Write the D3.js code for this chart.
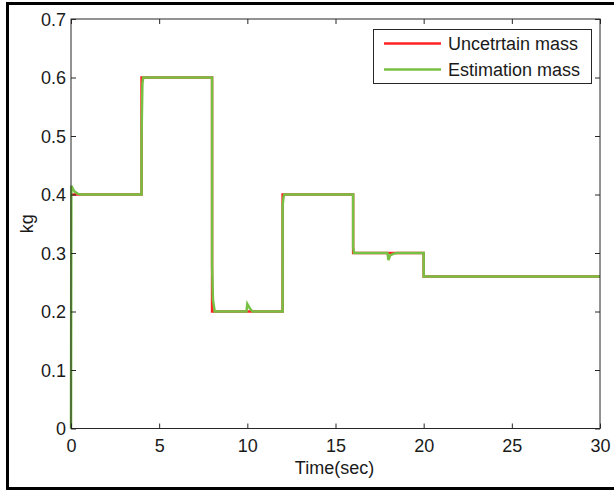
<!DOCTYPE html>
<html><head><meta charset="utf-8">
<script src="https://cdn.jsdelivr.net/npm/d3@7"></script>
<style>body{margin:0;background:#fff}svg{display:block}text{font-family:"Liberation Sans",Arial,sans-serif;fill:#1a1a1a}</style>
</head><body><svg id="c" width="614" height="490"></svg>
<script>
// Uncertain (true) mass: piecewise-constant steps
const stepTimes = [0, 4, 8, 12, 16, 20, 30];
const stepValues = [0.4, 0.6, 0.2, 0.4, 0.3, 0.26, 0.26];
// Estimated mass
const estTimes = [0, 0.02, 0.1, 0.2, 0.4, 0.6, 4.0, 4.0, 4.05, 4.1, 8.0, 8.0, 8.05, 8.15, 9.95, 10.0, 10.15, 10.3, 12.0, 12.0, 12.05, 12.1, 16.0, 16.0, 16.05, 17.95, 18.0, 18.1, 18.3, 18.5, 20.0, 20.0, 30];
const estValues = [0, 0.415, 0.41, 0.405, 0.401, 0.4, 0.4, 0.5, 0.59, 0.6, 0.6, 0.28, 0.22, 0.2, 0.2, 0.213, 0.205, 0.2, 0.2, 0.38, 0.395, 0.4, 0.4, 0.31, 0.3, 0.3, 0.288, 0.296, 0.299, 0.3, 0.3, 0.26, 0.26];
const xTicks = [0, 5, 10, 15, 20, 25, 30];
const yTicks = [0, 0.1, 0.2, 0.3, 0.4, 0.5, 0.6, 0.7];
const seriesNames = ["Uncetrtain mass", "Estimation mass"];
const seriesColors = ["#ff2222", "#76c043"];

const svg = d3.select("#c");
const L = 71, R = 600, T = 19, B = 428.5;
const x = d3.scaleLinear().domain([0, 30]).range([L, R]);
const y = d3.scaleLinear().domain([0, 0.7]).range([B, T]);

// outer frame
svg.append("rect").attr("x", 7.5).attr("y", 3.5).attr("width", 640).attr("height", 485)
  .attr("fill", "none").attr("stroke", "#000").attr("stroke-width", 3);

const plot = svg.append("g");
const line = d3.line().x(d => x(d[0])).y(d => y(d[1]));
const redData = stepTimes.map((t, i) => [t, stepValues[i]]);
plot.append("path").datum(redData)
  .attr("d", d3.line().x(d => x(d[0])).y(d => y(d[1])).curve(d3.curveStepAfter))
  .attr("fill", "none").attr("stroke", seriesColors[0]).attr("stroke-width", 2.5);
const greenData = estTimes.map((t, i) => [t, estValues[i]]);
plot.append("path").datum(greenData).attr("d", line)
  .attr("fill", "none").attr("stroke", seriesColors[1]).attr("stroke-width", 2.5);

// axes box
const axc = "#262626";
svg.append("rect").attr("x", L).attr("y", T).attr("width", R - L).attr("height", B - T)
  .attr("fill", "none").attr("stroke", axc).attr("stroke-width", 1);

const tl = 5;
const fs = 18;
const gx = svg.append("g").attr("transform", `translate(0,${B})`)
  .call(d3.axisBottom(x).tickValues(xTicks).tickSize(-tl).tickPadding(0).tickFormat(d3.format("d")));
gx.select(".domain").remove();
gx.selectAll("line").attr("stroke", axc);
gx.selectAll("text").attr("y", 23).attr("dy", 0).style("font-size", fs + "px").attr("fill", "#1a1a1a");
const gxt = svg.append("g").attr("transform", `translate(0,${T})`)
  .call(d3.axisTop(x).tickValues(xTicks).tickSize(-tl).tickFormat(""));
gxt.select(".domain").remove(); gxt.selectAll("line").attr("stroke", axc);

const gy = svg.append("g").attr("transform", `translate(${L},0)`)
  .call(d3.axisLeft(y).tickValues(yTicks).tickSize(-tl).tickFormat(d => d === 0 ? "0" : d3.format(".1f")(d)));
gy.select(".domain").remove();
gy.selectAll("line").attr("stroke", axc);
gy.selectAll("text").attr("x", -5).attr("dy", "0.35em").style("font-size", fs + "px").attr("fill", "#1a1a1a");
const gyr = svg.append("g").attr("transform", `translate(${R},0)`)
  .call(d3.axisRight(y).tickValues(yTicks).tickSize(-tl).tickFormat(""));
gyr.select(".domain").remove(); gyr.selectAll("line").attr("stroke", axc);

svg.append("text").attr("x", (L + R) / 2 - 1).attr("y", 474).attr("text-anchor", "middle")
  .style("font-size", fs + "px").text("Time(sec)");
svg.append("text").attr("transform", `translate(33,${(T + B) / 2}) rotate(-90)`).attr("text-anchor", "middle")
  .style("font-size", fs + "px").text("kg");

// legend
const lg = svg.append("g");
lg.append("rect").attr("x", 373.5).attr("y", 29.5).attr("width", 218).attr("height", 54)
  .attr("fill", "#fff").attr("stroke", axc).attr("stroke-width", 1);
seriesNames.forEach((n, i) => {
  const yy = 43.5 + i * 26;
  lg.append("line").attr("x1", 384).attr("x2", 441).attr("y1", yy).attr("y2", yy)
    .attr("stroke", seriesColors[i]).attr("stroke-width", 2.5);
  lg.append("text").attr("x", 448).attr("y", yy + 6.5).style("font-size", fs + "px").text(n);
});
</script></body></html>
